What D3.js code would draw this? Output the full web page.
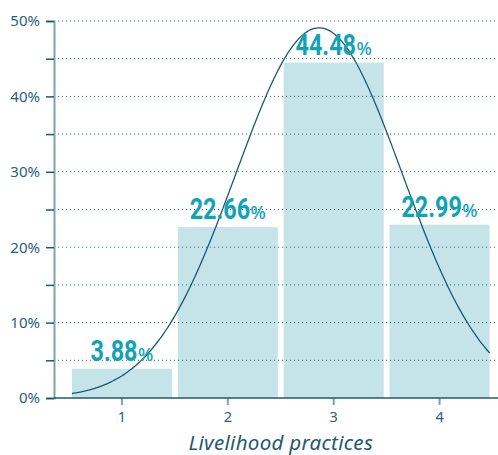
<!DOCTYPE html>
<html>
<head>
<meta charset="utf-8">
<script src="https://cdn.jsdelivr.net/npm/d3@7"></script>
<style>
  html, body { margin: 0; padding: 0; background: #fff; }
  svg { display: block; }
</style>
</head>
<body>
<svg id="chart" width="498" height="455"></svg>
<script>
// Share of respondents by number of livelihood practices
const categories = [1, 2, 3, 4];
const shares = [3.88, 22.66, 44.48, 22.99];          // percent
const yTicks = [0, 5, 10, 15, 20, 25, 30, 35, 40, 45, 50];
const yTickLabels = ["0%", "", "10%", "", "20%", "", "30%", "", "40%", "", "50%"];
const xTitle = "Livelihood practices";

// Fitted normal curve overlaid on the bars
const curveMean = 2.862;
const curveSd = 0.785;
const curvePeak = 49.1;                                // percent at the mean

const svg = d3.select("#chart");
const plotLeft = 54, plotRight = 498, plotTop = 21, plotBottom = 398;

const x = d3.scaleBand()
  .domain(categories)
  .range([69, 492.5])
  .paddingInner(0.055)
  .paddingOuter(0.0275);

const xNum = d3.scaleLinear()
  .domain([categories[0], categories[categories.length - 1]])
  .range([x(categories[0]) + x.bandwidth() / 2,
          x(categories[categories.length - 1]) + x.bandwidth() / 2]);

const y = d3.scaleLinear().domain([0, 50]).range([plotBottom, plotTop]);

const dark = "#1c5a6e";
const axisGrey = "#7ea2ae";
const textCol = "#2b6176";
const labelCol = "#11a3b5";

// bars
svg.append("g").selectAll("rect")
  .data(categories)
  .join("rect")
  .attr("x", d => x(d))
  .attr("width", x.bandwidth())
  .attr("y", (d, i) => y(shares[i]))
  .attr("height", (d, i) => y(0) - y(shares[i]))
  .attr("fill", "#c5e4ea");

// dotted gridlines
svg.append("g").selectAll("line")
  .data(yTicks.filter(t => t > 0))
  .join("line")
  .attr("x1", plotLeft).attr("x2", plotRight)
  .attr("y1", d => y(d)).attr("y2", d => y(d))
  .attr("stroke", "#2a6678")
  .attr("stroke-width", 1)
  .attr("stroke-dasharray", "1,3");

// y axis
const yAxis = d3.axisLeft(y)
  .tickValues(yTicks)
  .tickSize(8)
  .tickPadding(6)
  .tickFormat((d, i) => yTickLabels[i]);
const gy = svg.append("g").attr("transform", `translate(${plotLeft},0)`).call(yAxis);
gy.select(".domain").attr("stroke", axisGrey).attr("stroke-width", 2);
gy.selectAll(".tick line").attr("stroke", dark).attr("stroke-width", 1.5);
gy.selectAll(".tick text")
  .attr("fill", textCol)
  .style("font-family", "'Noto Sans', sans-serif")
  .style("font-size", "15px");

// x axis
const xAxis = d3.axisBottom(x).tickSize(7).tickPadding(7);
const gx = svg.append("g").attr("transform", `translate(0,${plotBottom})`).call(xAxis);
gx.select(".domain").remove();
gx.selectAll(".tick line").attr("stroke", axisGrey).attr("stroke-width", 2);
gx.selectAll(".tick text")
  .attr("fill", textCol)
  .style("font-family", "'Noto Sans', sans-serif")
  .style("font-size", "14.5px");
svg.append("line")
  .attr("x1", plotLeft).attr("x2", plotRight)
  .attr("y1", plotBottom).attr("y2", plotBottom)
  .attr("stroke", dark).attr("stroke-width", 1.5);

// normal curve across the span of the bars
const x0 = xNum.invert(x(categories[0]));
const x1 = xNum.invert(x(categories[categories.length - 1]) + x.bandwidth());
const curvePts = d3.range(0, 201).map(k => {
  const v = x0 + (x1 - x0) * k / 200;
  const z = (v - curveMean) / curveSd;
  return [v, curvePeak * Math.exp(-0.5 * z * z)];
});
svg.append("path")
  .datum(curvePts)
  .attr("fill", "none")
  .attr("stroke", dark)
  .attr("stroke-width", 1.3)
  .attr("d", d3.line().x(d => xNum(d[0])).y(d => y(d[1])).curve(d3.curveBasis));

// value labels: condensed bold number followed by a smaller percent sign
const squeeze = 0.78;
const labelGroups = svg.append("g").selectAll("g")
  .data(categories)
  .join("g");
labelGroups.each(function (d, i) {
  const g = d3.select(this);
  const num = g.append("text")
    .attr("transform", `scale(${squeeze},1)`)
    .attr("fill", labelCol)
    .style("font-family", "Roboto, sans-serif")
    .style("font-weight", "bold")
    .style("font-size", "30px")
    .text(shares[i].toFixed(2));
  const numW = num.node().getComputedTextLength() * squeeze;
  const pct = g.append("text")
    .attr("x", numW + 0.5)
    .attr("fill", labelCol)
    .style("font-family", "'Noto Sans', sans-serif")
    .style("font-weight", "500")
    .style("font-size", "18px")
    .text("%");
  const total = numW + 0.5 + pct.node().getComputedTextLength();
  const cx = x(d) + x.bandwidth() / 2;
  g.attr("transform", `translate(${cx - total / 2},${y(shares[i]) - 7.7})`);
});

// axis title
svg.append("text")
  .attr("x", (x(categories[0]) + x(categories[categories.length - 1]) + x.bandwidth()) / 2)
  .attr("y", 449.5)
  .attr("text-anchor", "middle")
  .attr("fill", dark)
  .style("font-family", "'Noto Sans', sans-serif")
  .style("font-style", "italic")
  .style("font-size", "20.5px")
  .style("letter-spacing", "0.3px")
  .text(xTitle);
</script>
</body>
</html>
